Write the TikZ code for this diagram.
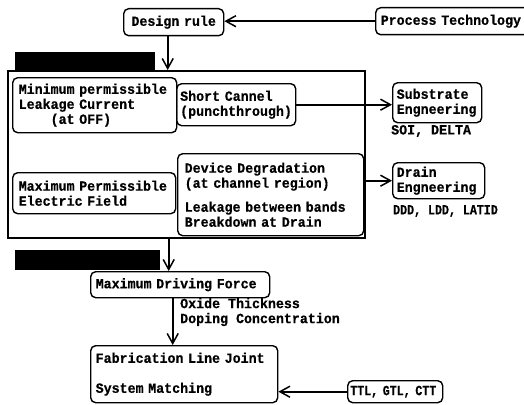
\documentclass[tikz,border=0pt]{standalone}
\usepackage{fontspec}
\usetikzlibrary{arrows.meta}
% narrow bold typewriter faces for the chart
\newfontfamily\dfont[FakeStretch=0.95,FakeBold=0.6]{Liberation Mono}
\newfontfamily\cfont[FakeStretch=0.83,FakeBold=0.6]{Liberation Mono}
\begin{document}
\begin{tikzpicture}[x=1pt,y=-1pt,
  txt/.style={font=\dfont\bfseries\fontsize{14}{15}\selectfont},
  ctxt/.style={font=\cfont\bfseries\fontsize{14}{15}\selectfont},
  box/.style={txt, draw, line width=1.4pt, rounded corners=5pt,
    anchor=north west, align=left, inner ysep=0pt},
  frame/.style={draw, line width=1.5pt, anchor=north west, inner sep=0pt},
  arr/.style={line width=1.8pt,
    -{Straight Barb[length=10pt,width=11pt,line width=1.5pt]}},
  lbl/.style={anchor=west, inner sep=0pt, align=left}]
\useasboundingbox (0,0) rectangle (524,404);

% top row
\node[box, align=center, inner xsep=2pt, text width=96pt,
  minimum width=100pt, minimum height=27pt] (design) at (123,8) {Design rule};
\node[box, inner xsep=5pt, text width=148pt,
  minimum width=158pt, minimum height=27pt] (process) at (375,7) {Process Technology};

% limits block
\fill (15,52) rectangle (155,70);
\node[frame, minimum width=357pt, minimum height=167pt] (big) at (7,70) {};

\node[box, inner xsep=6pt, text width=152pt,
  minimum width=164pt, minimum height=55pt] (minleak) at (12,77)
  {Minimum permissible\\Leakage Current\\\phantom{Leak}(at OFF)};
\node[box, inner xsep=3.5pt, text width=112pt,
  minimum width=119pt, minimum height=42pt] (short) at (176,83)
  {Short Cannel\\(punchthrough)};
\node[box, inner xsep=6pt, text width=151pt,
  minimum width=163pt, minimum height=41pt] (maxfield) at (12,172)
  {Maximum Permissible\\Electric Field};
\node[box, inner xsep=7pt, text width=172pt,
  minimum width=186pt, minimum height=82pt] (device) at (177,153)
  {Device Degradation\\(at channel region)\\[9pt]Leakage between bands\\Breakdown at Drain};

% engineering boxes on the right
\node[box, inner xsep=4pt, text width=81pt,
  minimum width=89pt, minimum height=40pt] (substrate) at (392,82)
  {Substrate\\Engneering};
\node[lbl, txt] (soi) at (391,131) {SOI, DELTA};
\node[box, inner xsep=4pt, text width=84pt,
  minimum width=92pt, minimum height=36pt] (drain) at (392,162)
  {Drain\\Engneering};
\node[lbl, ctxt] (ddd) at (393,211) {DDD, LDD, LATID};

% driving force and fabrication
\fill (15,250) rectangle (160,270);
\node[box, inner xsep=5pt, text width=169pt,
  minimum width=179pt, minimum height=26pt] (maxdrive) at (90,271)
  {Maximum Driving Force};
\node[lbl, txt] (oxide) at (180,312) {Oxide Thickness\\Doping Concentration};
\node[box, inner xsep=5pt, text width=177pt,
  minimum width=187pt, minimum height=57pt] (fab) at (90,345)
  {Fabrication Line Joint\\[15pt]System Matching};
\node[box, ctxt, inner xsep=2.5pt, text width=90pt,
  minimum width=95pt, minimum height=22pt] (ttl) at (347,380)
  {TTL, GTL, CTT};

% connectors
\draw[arr] (process.west) -- (process.west -| design.east);
\draw[arr] ([xshift=-6pt]design.south) -- ([xshift=-6pt]design.south |- big.north);
\draw[arr] (short.east) -- (short.east -| substrate.west);
\draw[arr] (big.east |- drain.west) -- (drain.west);
\draw[arr] ([xshift=-11.5pt]maxdrive.north |- big.south) -- ([xshift=-11.5pt]maxdrive.north);
\draw[arr] ([xshift=-7.5pt]maxdrive.south) -- ([xshift=-7.5pt]maxdrive.south |- fab.north);
\draw[arr] (ttl.west) -- (ttl.west -| fab.east);
\end{tikzpicture}
\end{document}
